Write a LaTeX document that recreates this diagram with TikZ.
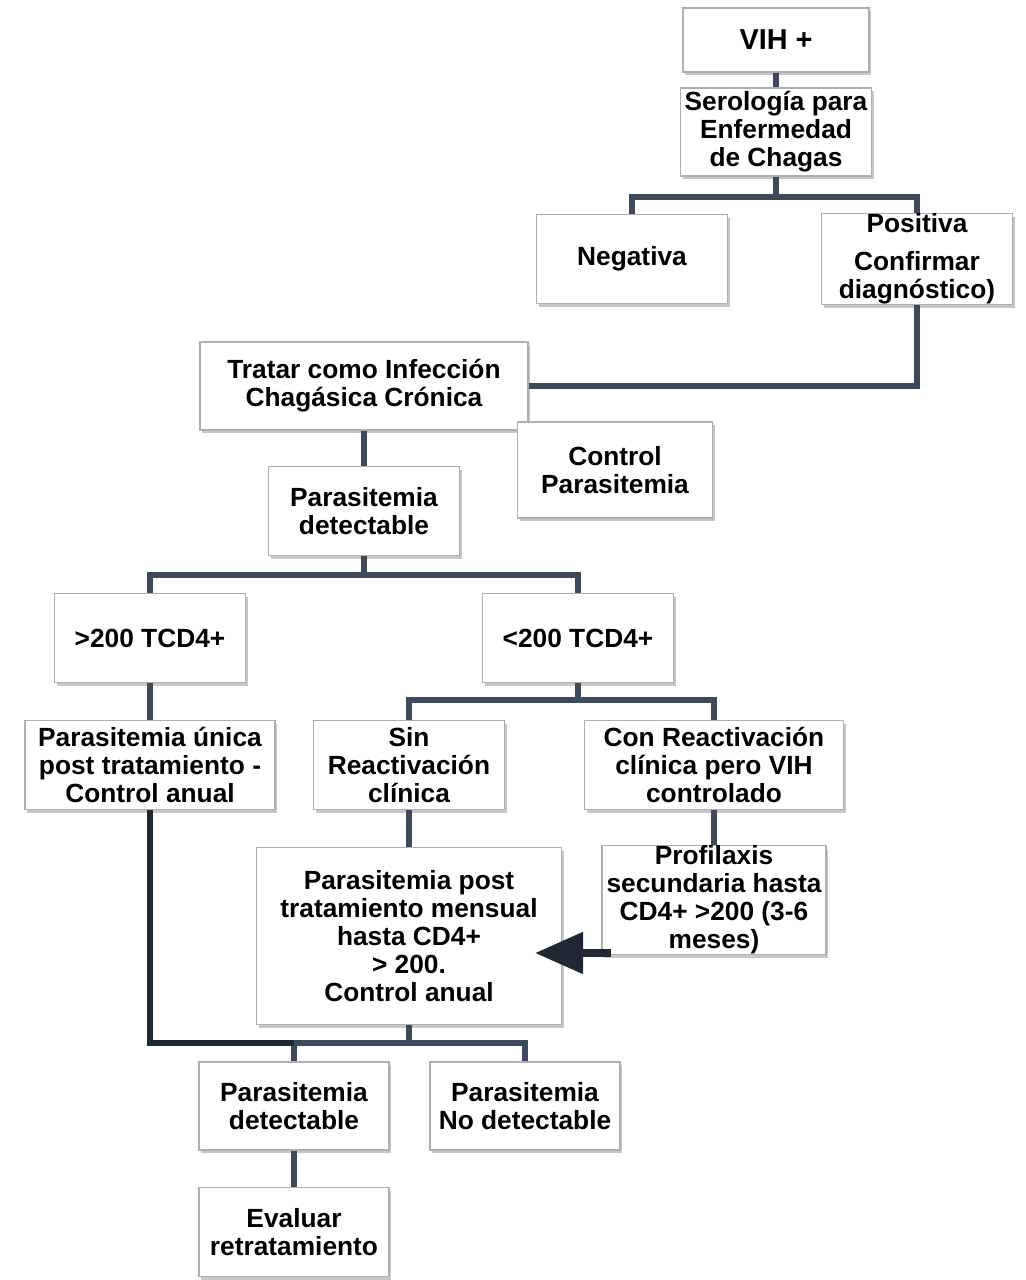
\documentclass[tikz,border=0pt]{standalone}
\usepackage{fontspec}
\setmainfont{Liberation Sans}
\usetikzlibrary{arrows.meta,shadows}
\definecolor{chagasline} {RGB}{ 62, 74, 92}
\definecolor{chagasdark} {RGB}{ 32, 40, 52}
\definecolor{chagasframe}{RGB}{175,175,175}

\begin{document}
\begin{tikzpicture}[
  x=0.025cm, y=-0.025cm,
  every node/.style={font=\bfseries\fontsize{18.7}{20}\selectfont},
  box/.style={draw=chagasframe,line width=0.8pt,fill=white,align=center,
              inner xsep=1pt,inner ysep=0pt,
              minimum width=4.775cm,minimum height=2.225cm,
              drop shadow={shadow xshift=0.06cm,shadow yshift=-0.08cm,fill=black,opacity=0.22}},
  link/.style={draw=chagasline,line width=0.13cm},
  darklink/.style={draw=chagasdark,line width=0.15cm},
  bigarrow/.style={draw=chagasdark,line width=0.2cm,-{Triangle[length=1.2cm,width=1.0cm]}},
]
\fill[white] (0,0) rectangle (1025,1280);
\useasboundingbox (0,0) rectangle (1025,1280);

%% Top: VIH + and serology
\node[box,minimum width=4.65cm,minimum height=1.6cm,
      font=\bfseries\fontsize{20.5}{22}\selectfont] (vih) at (776,40) {VIH +};
\node[box,minimum height=2.2cm] (sero) at (776,132) {Serología para\\Enfermedad\\de Chagas};
\node[box] (neg) at (632,259) {Negativa};
\node[box] (pos) at (917,259) {Positiva\\[7pt]Confirmar\\diagnóstico)};

%% Treatment
\node[box,minimum width=8.2cm,minimum height=2.2cm] (tratar) at (364,386)
  {Tratar como Infección\\Chagásica Crónica};
\node[box,minimum width=4.875cm,minimum height=2.4cm] (control) at (615,470)
  {Control\\Parasitemia};
\node[box] (pdet) at (364,511) {Parasitemia\\detectable};

%% CD4 split
\node[box] (gt) at (150,638) {>200 TCD4+};
\node[box] (lt) at (578,638) {<200 TCD4+};
\node[box,minimum width=6.25cm] (unica) at (150,765)
  {Parasitemia única\\post tratamiento -\\Control anual};
\node[box] (sin) at (409,765) {Sin\\Reactivación\\clínica};
\node[box,minimum width=6.475cm] (con) at (714,765)
  {Con Reactivación\\clínica pero VIH\\controlado};

%% Follow-up
\node[box,minimum width=7.625cm,minimum height=4.425cm] (post) at (409,936)
  {Parasitemia post\\tratamiento mensual\\hasta CD4+\\> 200.\\Control anual};
\node[box,minimum width=5.6cm,minimum height=2.625cm] (prof) at (714,900)
  {Profilaxis\\secundaria hasta\\CD4+ >200 (3-6\\meses)};

%% Results
\node[box,minimum width=4.75cm,minimum height=2.2cm] (pdet2) at (294,1106)
  {Parasitemia\\detectable};
\node[box,minimum width=4.75cm,minimum height=2.2cm] (pnodet) at (525,1106)
  {Parasitemia\\No detectable};
\node[box,minimum width=4.75cm] (eval) at (294,1232) {Evaluar\\retratamiento};

%% Connectors
\coordinate (b1) at (776,197);
\coordinate (b2) at (364,575);
\coordinate (b3) at (578,700);
\coordinate (b4) at (409,1043);
\coordinate (tip) at (535,953);

\draw[link] (vih.south) -- (sero.north);
\draw[link] (sero.south) -- (b1) -| (neg.north);
\draw[link] (b1) -| (pos.north);
\draw[link] (pos.south) |- (tratar.east);
\draw[link] (tratar.south) -- (pdet.north);
\draw[link] (pdet.south) -- (b2) -| (gt.north);
\draw[link] (b2) -| (lt.north);
\draw[link] (gt.south) -- (unica.north);
\draw[link] (lt.south) -- (b3) -| (sin.north);
\draw[link] (b3) -| (con.north);
\draw[link] (sin.south) -- (post.north);
\draw[link] (con.south) -- (prof.north);
\draw[link] (post.south) -- (b4) -| (pdet2.north);
\draw[link] (b4) -| (pnodet.north);
\draw[darklink] (unica.south) |- (pdet2.north |- b4);
\draw[link] (pdet2.south) -- (eval.north);

\draw[bigarrow] ([xshift=0.25cm]prof.west |- tip) -- (tip);

\end{tikzpicture}
\end{document}
